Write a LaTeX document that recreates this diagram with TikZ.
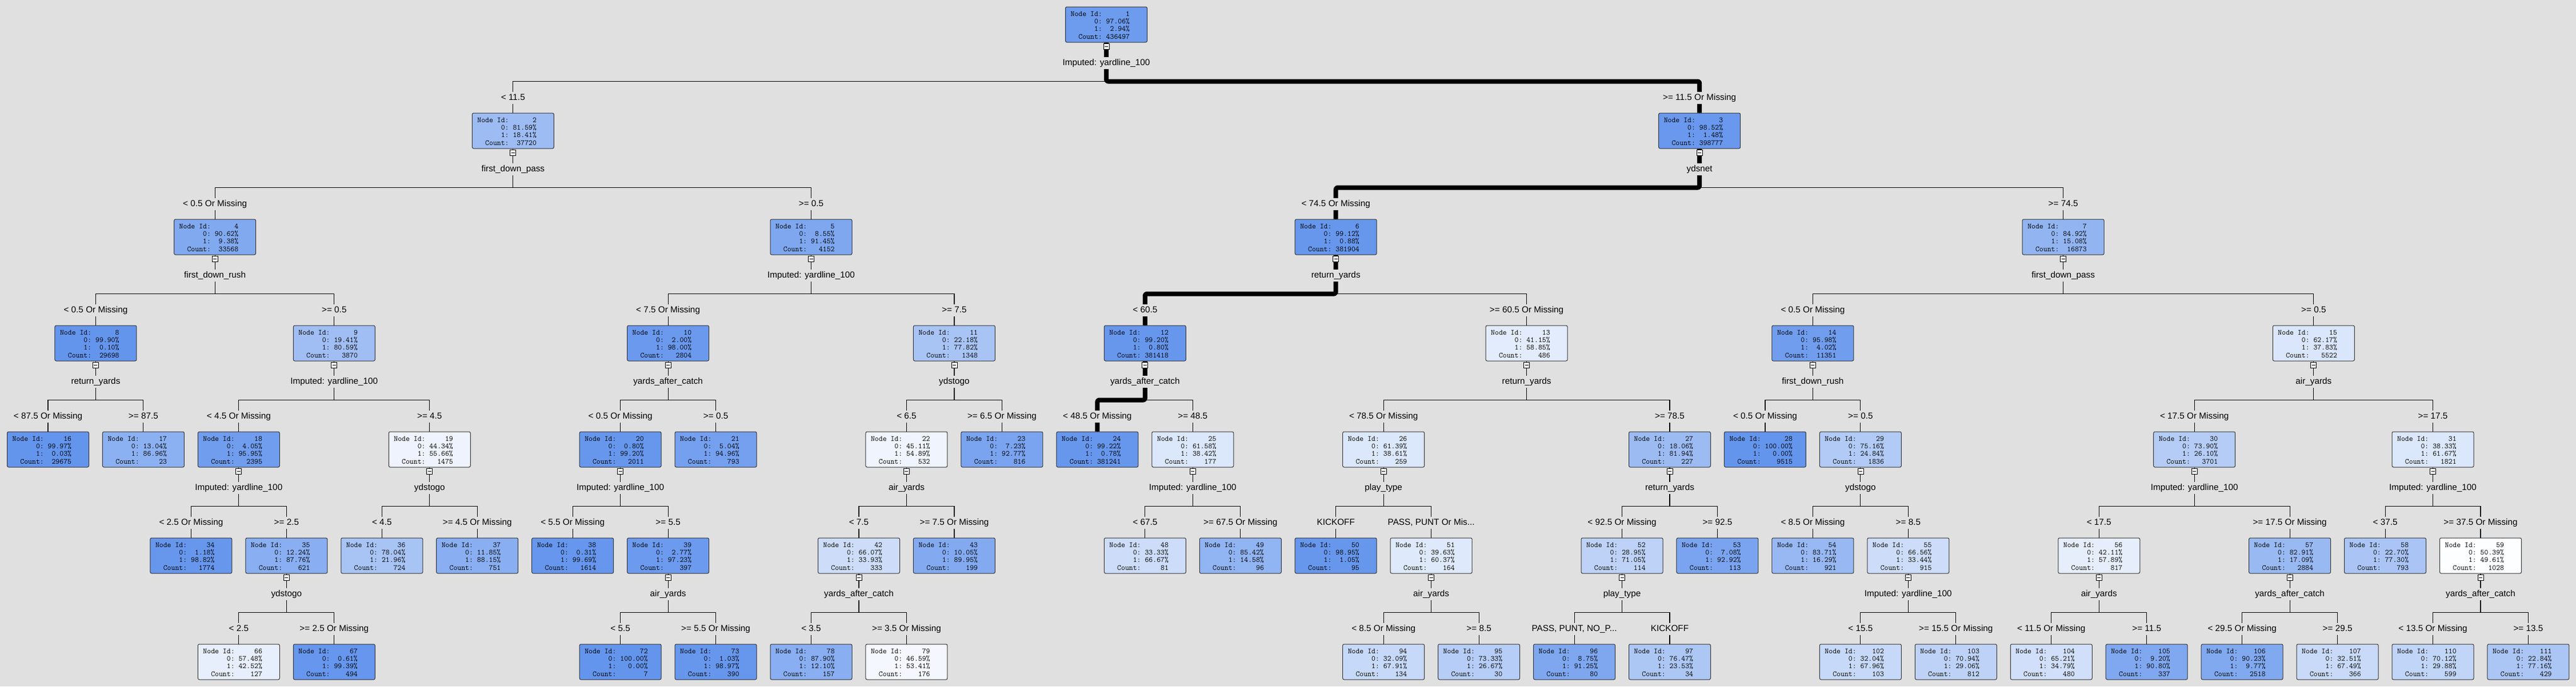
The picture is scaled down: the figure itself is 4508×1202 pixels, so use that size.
\documentclass[tikz,border=0pt]{standalone}
\usepackage{fontspec}
\setmainfont{Liberation Sans}
\usetikzlibrary{calc}
\definecolor{bgc}{RGB}{224,224,224}
\definecolor{cblue}{RGB}{100,149,237}
\tikzset{
  tbox/.style={draw=black!80, line width=1pt, rounded corners=2.5pt, minimum width=143pt, minimum height=62pt, inner sep=0pt},
  ttext/.style={inner sep=0pt, font=\ttfamily\addfontfeature{FakeBold=1}\fontsize{13.4}{13.1}\selectfont, anchor=base west},
  edge/.style={line width=1.1pt, black},
  hl/.style={line width=8pt, line join=round, rounded corners=3pt, black},
  lab/.style={fill=bgc, inner xsep=1.5pt, inner ysep=3pt, text height=11pt, text depth=3.5pt, anchor=base, font=\fontsize{15.3}{18}\selectfont},
  cbox/.style={draw=black, line width=0.8pt, fill=white, minimum size=10pt, inner sep=0pt,
    path picture={\draw[line width=1pt] ([xshift=-3pt]path picture bounding box.center) -- ([xshift=3pt]path picture bounding box.center);}},
}
\newcommand\TN[7]{%
  \node[tbox, fill=cblue!#7!white] (n#1) at ({84+83.47*#2},{43+186*#3}) {};
  \node[ttext] (t#1) at ($(n#1.north west)+(9.4,17)$) {\begin{tabular}[t]{@{}r@{\ }r@{}}Node Id: & #1\\ 0: & #4\%\\ 1: & #5\%\\ Count: & #6\end{tabular}};
}
\newcommand\TE[3]{%
  \draw[edge] (n#1.south) -- ++(0,68) -| (n#2.north);
  \draw[edge] (n#1.south) -- ++(0,68) -| (n#3.north);
}
\newcommand\HL[2]{\draw[hl] (n#1.south) -- ++(0,68) -| (n#2.north);}
\newcommand\VL[2]{%
  \node[lab] (v#1) at ($(n#1.south)+(0,39.5)$) {#2};
  \node[cbox] (c#1) at ($(n#1.south)+(0,6.5)$) {};
}
\newcommand\EL[2]{\node[lab] (e#1) at ($(n#1.north)+(0,-22.5)$) {#2};}
\begin{document}
\begin{tikzpicture}[x=1pt,y=-1pt]
\useasboundingbox (0,0) rectangle (4508,1202);
\fill[bgc] (0,0) rectangle (4508,1202);
% level 0-3
\TN{1}{22.1875}{0}{97.06}{2.94}{436497}{94}
\TN{2}{9.75}{1}{81.59}{18.41}{37720}{63}
\TN{3}{34.625}{1}{98.52}{1.48}{398777}{97}
\TN{4}{3.5}{2}{90.62}{9.38}{33568}{81}
\TN{5}{16}{2}{8.55}{91.45}{4152}{83}
\TN{6}{27}{2}{99.12}{0.88}{381904}{98}
\TN{7}{42.25}{2}{84.92}{15.08}{16873}{70}
\TN{8}{1}{3}{99.90}{0.10}{29698}{100}
\TN{9}{6}{3}{19.41}{80.59}{3870}{61}
\TN{10}{13}{3}{2.00}{98.00}{2804}{96}
\TN{11}{19}{3}{22.18}{77.82}{1348}{56}
\TN{12}{23}{3}{99.20}{0.80}{381418}{98}
\TN{13}{31}{3}{41.15}{58.85}{486}{18}
\TN{14}{37}{3}{95.98}{4.02}{11351}{92}
\TN{15}{47.5}{3}{62.17}{37.83}{5522}{24}
% level 4
\TN{16}{0}{4}{99.97}{0.03}{29675}{100}
\TN{17}{2}{4}{13.04}{86.96}{23}{74}
\TN{18}{4}{4}{4.05}{95.95}{2395}{92}
\TN{19}{8}{4}{44.34}{55.66}{1475}{11}
\TN{20}{12}{4}{0.80}{99.20}{2011}{98}
\TN{21}{14}{4}{5.04}{94.96}{793}{90}
\TN{22}{18}{4}{45.11}{54.89}{532}{10}
\TN{23}{20}{4}{7.23}{92.77}{816}{86}
\TN{24}{22}{4}{99.22}{0.78}{381241}{98}
\TN{25}{24}{4}{61.58}{38.42}{177}{23}
\TN{26}{28}{4}{61.39}{38.61}{259}{23}
\TN{27}{34}{4}{18.06}{81.94}{227}{64}
\TN{28}{36}{4}{100.00}{0.00}{9515}{100}
\TN{29}{38}{4}{75.16}{24.84}{1836}{50}
\TN{30}{45}{4}{73.90}{26.10}{3701}{48}
\TN{31}{50}{4}{38.33}{61.67}{1821}{23}
% level 5
\TN{34}{3}{5}{1.18}{98.82}{1774}{98}
\TN{35}{5}{5}{12.24}{87.76}{621}{76}
\TN{36}{7}{5}{78.04}{21.96}{724}{56}
\TN{37}{9}{5}{11.85}{88.15}{751}{76}
\TN{38}{11}{5}{0.31}{99.69}{1614}{99}
\TN{39}{13}{5}{2.77}{97.23}{397}{95}
\TN{42}{17}{5}{66.07}{33.93}{333}{32}
\TN{43}{19}{5}{10.05}{89.95}{199}{80}
\TN{48}{23}{5}{33.33}{66.67}{81}{33}
\TN{49}{25}{5}{85.42}{14.58}{96}{71}
\TN{50}{27}{5}{98.95}{1.05}{95}{98}
\TN{51}{29}{5}{39.63}{60.37}{164}{21}
\TN{52}{33}{5}{28.95}{71.05}{114}{42}
\TN{53}{35}{5}{7.08}{92.92}{113}{86}
\TN{54}{37}{5}{83.71}{16.29}{921}{67}
\TN{55}{39}{5}{66.56}{33.44}{915}{33}
\TN{56}{43}{5}{42.11}{57.89}{817}{16}
\TN{57}{47}{5}{82.91}{17.09}{2884}{66}
\TN{58}{49}{5}{22.70}{77.30}{793}{55}
\TN{59}{51}{5}{50.39}{49.61}{1028}{1}
% level 6
\TN{66}{4}{6}{57.48}{42.52}{127}{15}
\TN{67}{6}{6}{0.61}{99.39}{494}{99}
\TN{72}{12}{6}{100.00}{0.00}{7}{100}
\TN{73}{14}{6}{1.03}{98.97}{390}{98}
\TN{78}{16}{6}{87.90}{12.10}{157}{76}
\TN{79}{18}{6}{46.59}{53.41}{176}{7}
\TN{94}{28}{6}{32.09}{67.91}{134}{36}
\TN{95}{30}{6}{73.33}{26.67}{30}{47}
\TN{96}{32}{6}{8.75}{91.25}{80}{83}
\TN{97}{34}{6}{76.47}{23.53}{34}{53}
\TN{102}{38}{6}{32.04}{67.96}{103}{36}
\TN{103}{40}{6}{70.94}{29.06}{812}{42}
\TN{104}{42}{6}{65.21}{34.79}{480}{30}
\TN{105}{44}{6}{9.20}{90.80}{337}{82}
\TN{106}{46}{6}{90.23}{9.77}{2518}{81}
\TN{107}{48}{6}{32.51}{67.49}{366}{35}
\TN{110}{50}{6}{70.12}{29.88}{599}{40}
\TN{111}{52}{6}{22.84}{77.16}{429}{54}
% connectors
\TE{1}{2}{3}
\TE{2}{4}{5}
\TE{3}{6}{7}
\TE{4}{8}{9}
\TE{5}{10}{11}
\TE{6}{12}{13}
\TE{7}{14}{15}
\TE{8}{16}{17}
\TE{9}{18}{19}
\TE{10}{20}{21}
\TE{11}{22}{23}
\TE{12}{24}{25}
\TE{13}{26}{27}
\TE{14}{28}{29}
\TE{15}{30}{31}
\TE{18}{34}{35}
\TE{19}{36}{37}
\TE{20}{38}{39}
\TE{22}{42}{43}
\TE{25}{48}{49}
\TE{26}{50}{51}
\TE{27}{52}{53}
\TE{29}{54}{55}
\TE{30}{56}{57}
\TE{31}{58}{59}
\TE{35}{66}{67}
\TE{39}{72}{73}
\TE{42}{78}{79}
\TE{51}{94}{95}
\TE{52}{96}{97}
\TE{55}{102}{103}
\TE{56}{104}{105}
\TE{57}{106}{107}
\TE{59}{110}{111}
% highlighted path
\HL{1}{3}
\HL{3}{6}
\HL{6}{12}
\HL{12}{24}
% split variable labels
\VL{1}{Imputed: yardline\_100}
\VL{2}{first\_down\_pass}
\VL{3}{ydsnet}
\VL{4}{first\_down\_rush}
\VL{5}{Imputed: yardline\_100}
\VL{6}{return\_yards}
\VL{7}{first\_down\_pass}
\VL{8}{return\_yards}
\VL{9}{Imputed: yardline\_100}
\VL{10}{yards\_after\_catch}
\VL{11}{ydstogo}
\VL{12}{yards\_after\_catch}
\VL{13}{return\_yards}
\VL{14}{first\_down\_rush}
\VL{15}{air\_yards}
\VL{18}{Imputed: yardline\_100}
\VL{19}{ydstogo}
\VL{20}{Imputed: yardline\_100}
\VL{22}{air\_yards}
\VL{25}{Imputed: yardline\_100}
\VL{26}{play\_type}
\VL{27}{return\_yards}
\VL{29}{ydstogo}
\VL{30}{Imputed: yardline\_100}
\VL{31}{Imputed: yardline\_100}
\VL{35}{ydstogo}
\VL{39}{air\_yards}
\VL{42}{yards\_after\_catch}
\VL{51}{air\_yards}
\VL{52}{play\_type}
\VL{55}{Imputed: yardline\_100}
\VL{56}{air\_yards}
\VL{57}{yards\_after\_catch}
\VL{59}{yards\_after\_catch}
% edge labels
\EL{2}{< 11.5}
\EL{3}{>= 11.5 Or Missing}
\EL{4}{< 0.5 Or Missing}
\EL{5}{>= 0.5}
\EL{6}{< 74.5 Or Missing}
\EL{7}{>= 74.5}
\EL{8}{< 0.5 Or Missing}
\EL{9}{>= 0.5}
\EL{10}{< 7.5 Or Missing}
\EL{11}{>= 7.5}
\EL{12}{< 60.5}
\EL{13}{>= 60.5 Or Missing}
\EL{14}{< 0.5 Or Missing}
\EL{15}{>= 0.5}
\EL{16}{< 87.5 Or Missing}
\EL{17}{>= 87.5}
\EL{18}{< 4.5 Or Missing}
\EL{19}{>= 4.5}
\EL{20}{< 0.5 Or Missing}
\EL{21}{>= 0.5}
\EL{22}{< 6.5}
\EL{23}{>= 6.5 Or Missing}
\EL{24}{< 48.5 Or Missing}
\EL{25}{>= 48.5}
\EL{26}{< 78.5 Or Missing}
\EL{27}{>= 78.5}
\EL{28}{< 0.5 Or Missing}
\EL{29}{>= 0.5}
\EL{30}{< 17.5 Or Missing}
\EL{31}{>= 17.5}
\EL{34}{< 2.5 Or Missing}
\EL{35}{>= 2.5}
\EL{36}{< 4.5}
\EL{37}{>= 4.5 Or Missing}
\EL{38}{< 5.5 Or Missing}
\EL{39}{>= 5.5}
\EL{42}{< 7.5}
\EL{43}{>= 7.5 Or Missing}
\EL{48}{< 67.5}
\EL{49}{>= 67.5 Or Missing}
\EL{50}{KICKOFF}
\EL{51}{PASS, PUNT Or Mis...}
\EL{52}{< 92.5 Or Missing}
\EL{53}{>= 92.5}
\EL{54}{< 8.5 Or Missing}
\EL{55}{>= 8.5}
\EL{56}{< 17.5}
\EL{57}{>= 17.5 Or Missing}
\EL{58}{< 37.5}
\EL{59}{>= 37.5 Or Missing}
\EL{66}{< 2.5}
\EL{67}{>= 2.5 Or Missing}
\EL{72}{< 5.5}
\EL{73}{>= 5.5 Or Missing}
\EL{78}{< 3.5}
\EL{79}{>= 3.5 Or Missing}
\EL{94}{< 8.5 Or Missing}
\EL{95}{>= 8.5}
\EL{96}{PASS, PUNT, NO\_P...}
\EL{97}{KICKOFF}
\EL{102}{< 15.5}
\EL{103}{>= 15.5 Or Missing}
\EL{104}{< 11.5 Or Missing}
\EL{105}{>= 11.5}
\EL{106}{< 29.5 Or Missing}
\EL{107}{>= 29.5}
\EL{110}{< 13.5 Or Missing}
\EL{111}{>= 13.5}
\end{tikzpicture}
\end{document}
